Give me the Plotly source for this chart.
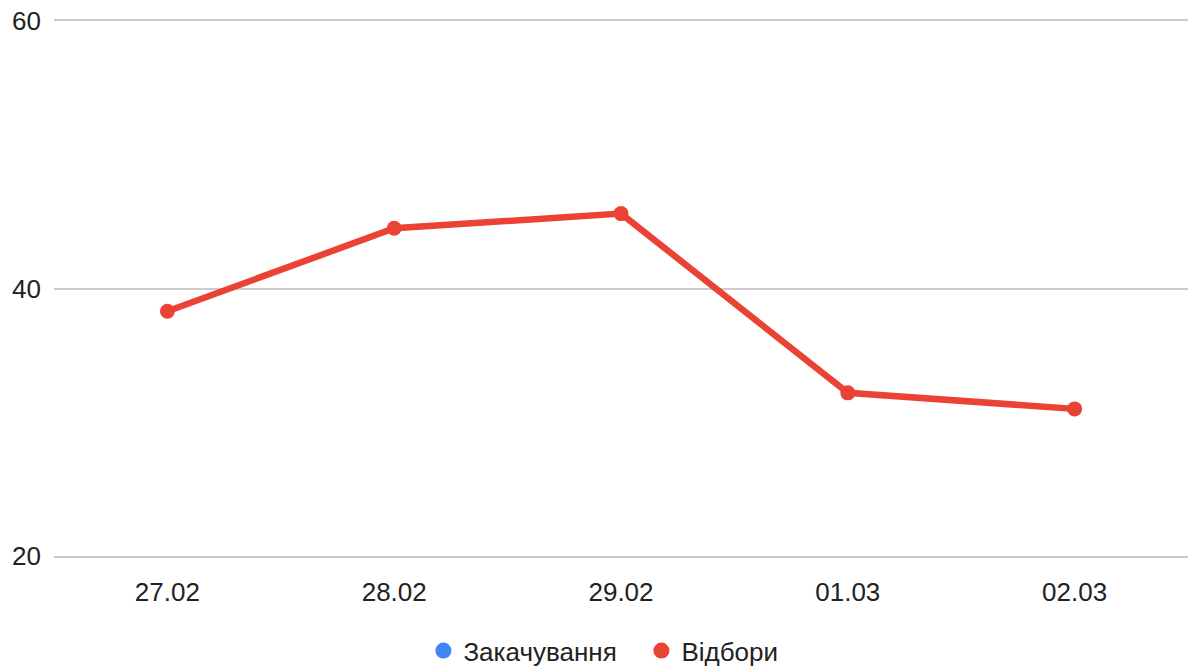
import plotly.graph_objects as go

categories = ["27.02", "28.02", "29.02", "01.03", "02.03"]
zakachuvannia = [None, None, None, None, None]
vidbory = [38.3, 44.5, 45.6, 32.2, 31.0]
y_ticks = [20, 40, 60]
series_names = ["Закачування", "Відбори"]
series_colors = ["#4285F4", "#EA4335"]

FONT = "Liberation Sans, Arial, sans-serif"
TXT = "#222222"

fig = go.Figure()
for name, vals, col in zip(series_names, [zakachuvannia, vidbory], series_colors):
    fig.add_trace(go.Scatter(
        x=categories, y=vals, name=name,
        mode="lines+markers",
        line=dict(color=col, width=6.5),
        marker=dict(color=col, size=15),
        showlegend=False, legendgroup=name,
    ))
# legend entries (circle markers only, as in the reference)
for name, col in zip(series_names, series_colors):
    fig.add_trace(go.Scatter(
        x=[None], y=[None], name=name, mode="markers",
        marker=dict(color=col, size=18),
        showlegend=True, legendgroup=name,
    ))

fig.update_layout(
    width=1188, height=666,
    margin=dict(l=54, r=0, t=21, b=110, autoexpand=False),
    paper_bgcolor="white", plot_bgcolor="white",
    font=dict(family=FONT, size=26, color=TXT),
    showlegend=True,
    legend=dict(
        orientation="h", x=0.518, xanchor="center",
        y=-0.177, yanchor="middle",
        font=dict(family=FONT, size=26, color=TXT),
        itemwidth=30, traceorder="normal",
        entrywidth=173,
    ),
    xaxis=dict(
        type="category", range=[-0.5, 4.5],
        showgrid=False, zeroline=False,
        showline=True, mirror=True, linecolor="#cccccc", linewidth=1.5,
        ticks="", ticklabelstandoff=12,
        tickfont=dict(family=FONT, size=26, color=TXT),
    ),
    yaxis=dict(
        range=[20, 60], tickvals=y_ticks,
        showgrid=True, gridcolor="#cccccc", gridwidth=1.5,
        zeroline=False, showline=False, ticks="",
        ticklabelstandoff=12,
        tickfont=dict(family=FONT, size=26, color=TXT),
    ),
)

fig.write_html("out.html")
